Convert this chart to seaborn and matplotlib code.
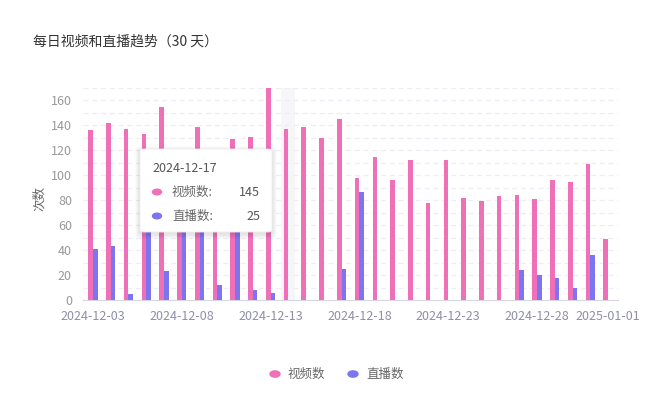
import numpy as np
import pandas as pd
import seaborn as sns
import matplotlib
matplotlib.use('Agg')
from matplotlib import pyplot as plt
from matplotlib.patches import FancyBboxPatch, Circle

# data
dates = pd.date_range("2024-12-03", "2025-01-01").strftime("%Y-%m-%d").tolist()
video = [136, 142, 137, 133, 155, 100, 139, 108, 129, 131, 170, 137, 139, 130, 145,
         98, 115, 96, 112, 78, 112, 82, 79, 83, 84, 81, 96, 95, 109, 49]
live = [41, 43, 5, 62, 23, 65, 60, 12, 58, 8, 6, 0, 0, 0, 25,
        87, 0, 0, 0, 0, 0, 0, 0, 0, 24, 20, 18, 10, 36, 0]
series = ["视频数", "直播数"]
colors = ["#ef6fb9", "#7d75ef"]
tick_idx = [0, 5, 10, 15, 20, 25, 29]
tip_day = "2024-12-17"
hover_day = "2024-12-14"

df = pd.DataFrame({"date": dates * 2,
                   "count": video + live,
                   "type": [series[0]] * len(dates) + [series[1]] * len(dates)})

sns.set_style("white")
plt.rcParams['font.family'] = ['Noto Sans CJK SC', 'DejaVu Sans']

W, H = 664, 415
fig = plt.figure(figsize=(W / 100, H / 100), dpi=100)
ax = fig.add_axes([83 / W, 1 - 300 / H, (618 - 83) / W, (300 - 88) / H])


def px(x, y):
    return x / W, 1 - y / H


# hover shadow band
hi = dates.index(hover_day)
ax.axvspan(hi - 0.4, hi + 0.4, color="#f6f6f9", zorder=0, lw=0)

sns.barplot(data=df, x="date", y="count", hue="type", order=dates, hue_order=series,
            palette=colors, width=0.52, gap=0, legend=False, saturation=1, ax=ax, zorder=3)
for p in ax.patches:
    p.set_edgecolor("none")

ax.set_xlim(-0.56, len(dates) - 0.44)
ax.set_ylim(0, 170)
ax.set_yticks(range(0, 161, 20))
ax.set_yticks(range(0, 171, 10), minor=True)
ax.yaxis.grid(True, which="both", color="#ededf5", linestyle=(0, (4, 3)), lw=0.9, zorder=0)
ax.set_axisbelow(True)
ax.set_xticks(tick_idx)
ax.set_xticklabels([dates[i] for i in tick_idx])
ax.tick_params(axis="x", colors="#d6d6e4", labelcolor="#8e8eaa", labelsize=9,
               length=4, width=0.8, pad=3)
ax.tick_params(axis="y", which="both", length=0, labelcolor="#999999", labelsize=9, pad=8)
for s in ["top", "right", "left"]:
    ax.spines[s].set_visible(False)
ax.spines["bottom"].set_color("#d6d6e4")
ax.set_xlabel("")
ax.set_ylabel("")

fig.text(*px(33, 42), "每日视频和直播趋势（30 天）", fontsize=10, color="#333333", va="center")
fig.text(*px(40, 198), "次数", fontsize=9, color="#666666", rotation=90, va="center", ha="center")

# legend at the bottom
for (cx, tx), name, c in zip([(275, 288), (353, 366)], series, colors):
    fig.add_artist(Circle(px(cx, 374), 5 / W, color=c, transform=fig.transFigure))
    fig.text(*px(tx, 374), name, fontsize=9, color="#666666", va="center")

# tooltip
ti = dates.index(tip_day)
x0, y0 = px(140, 232)
bw, bh = (272 - 140) / W, (232 - 149) / H
for k, a in enumerate([0.03, 0.03, 0.04]):
    d = (3 - k) * 1.5
    fig.add_artist(FancyBboxPatch((x0 - d / W, y0 - (d + 2) / H), bw + 2 * d / W, bh + 2 * d / H,
                                  boxstyle="round,pad=0,rounding_size=0.008", fc="#000000",
                                  alpha=a, ec="none", transform=fig.transFigure, zorder=9))
fig.add_artist(FancyBboxPatch((x0, y0), bw, bh, boxstyle="round,pad=0,rounding_size=0.006",
                              fc="white", ec="#eeeeee", lw=0.6, transform=fig.transFigure, zorder=10))
fig.text(*px(152, 168), tip_day, fontsize=9, color="#555555", va="center", zorder=11)
for ry, name, c, v in zip([192, 216], series, colors, [video[ti], live[ti]]):
    fig.add_artist(Circle(px(157, ry), 4.5 / W, color=c, transform=fig.transFigure, zorder=11))
    fig.text(*px(172, ry), name + ":", fontsize=9, color="#666666", va="center", zorder=11)
    fig.text(*px(260, ry), str(v), fontsize=9, color="#555555", va="center", ha="right", zorder=11)

fig.savefig("out.png", dpi=100)
